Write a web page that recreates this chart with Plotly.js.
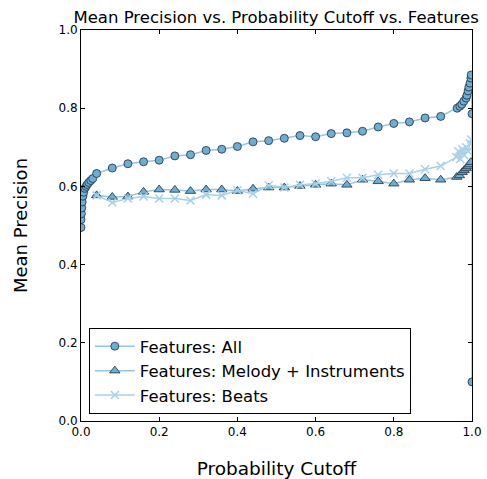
<!DOCTYPE html>
<html>
<head>
<meta charset="utf-8">
<script src="https://cdn.plot.ly/plotly-3.0.1.min.js"></script>
<style>html,body{margin:0;padding:0;background:#fff;}#chart{width:487px;height:479px;}</style>
</head>
<body>
<div id="chart"></div>
<script>
// Features: All
const allX = [0, 0, 0.001, 0.002, 0.003, 0.005, 0.007, 0.01, 0.013, 0.016, 0.02, 0.025, 0.03,
  0.04, 0.08, 0.12, 0.16, 0.20, 0.24, 0.28, 0.32, 0.36, 0.40, 0.44, 0.48, 0.52, 0.56, 0.60, 0.64, 0.68, 0.72, 0.76,
  0.80, 0.84, 0.88, 0.92, 0.962, 0.969, 0.974, 0.979, 0.985, 0.987, 0.990, 0.992, 0.995, 0.997, 0.998, 1.0, 1.0];
const allY = [0.495, 0.515, 0.53, 0.545, 0.56, 0.575, 0.585, 0.595, 0.60, 0.605, 0.61, 0.615, 0.62,
  0.633, 0.647, 0.658, 0.663, 0.667, 0.678, 0.681, 0.692, 0.695, 0.702, 0.714, 0.717, 0.723, 0.730, 0.727, 0.735, 0.737, 0.741, 0.752,
  0.761, 0.765, 0.775, 0.779, 0.800, 0.805, 0.810, 0.818, 0.826, 0.833, 0.844, 0.854, 0.864, 0.877, 0.885, 0.786, 0.10];

// Features: Melody + Instruments
const melX = [0.04, 0.08, 0.12, 0.16, 0.20, 0.24, 0.28, 0.32, 0.36, 0.40, 0.44, 0.48, 0.52, 0.56, 0.60, 0.64, 0.68, 0.72, 0.76,
  0.80, 0.84, 0.88, 0.92, 0.961, 0.968, 0.975, 0.980, 0.985, 0.990, 0.993, 0.997];
const melY = [0.577, 0.573, 0.574, 0.586, 0.592, 0.591, 0.588, 0.592, 0.592, 0.588, 0.594, 0.597, 0.597, 0.601, 0.604, 0.607, 0.604, 0.617, 0.613,
  0.607, 0.617, 0.621, 0.617, 0.624, 0.628, 0.636, 0.641, 0.646, 0.651, 0.656, 0.662];

// Features: Beats
const beatX = [0.04, 0.08, 0.12, 0.16, 0.20, 0.24, 0.28, 0.32, 0.36, 0.40, 0.44, 0.48, 0.52, 0.56, 0.60, 0.64, 0.68, 0.72, 0.76,
  0.80, 0.84, 0.88, 0.92, 0.960, 0.965, 0.970, 0.975, 0.980, 0.985, 0.990, 0.995, 0.998];
const beatY = [0.577, 0.559, 0.569, 0.574, 0.569, 0.569, 0.564, 0.579, 0.577, 0.590, 0.581, 0.603, 0.597, 0.604, 0.607, 0.613, 0.622, 0.622, 0.630,
  0.633, 0.633, 0.644, 0.652, 0.675, 0.690, 0.670, 0.695, 0.680, 0.700, 0.690, 0.710, 0.720];

const seriesNames = ['Features: All', 'Features: Melody + Instruments', 'Features: Beats'];
const xTicks = [0, 0.2, 0.4, 0.6, 0.8, 1.0];
const xTickText = ['0.0', '0.2', '0.4', '0.6', '0.8', '1.0'];
const yTicks = [0, 0.2, 0.4, 0.6, 0.8, 1.0];
const yTickText = ['0.0', '0.2', '0.4', '0.6', '0.8', '1.0'];

const lineCol = '#94c6e2';
const fillCol = '#6baed6';
const edgeCol = 'rgba(35,55,70,0.85)';

const traces = [
  {x: allX, y: allY, name: seriesNames[0], mode: 'lines+markers', type: 'scatter',
   line: {color: lineCol, width: 1.5},
   marker: {symbol: 'circle', size: 8, color: fillCol, line: {color: edgeCol, width: 1}}},
  {x: melX, y: melY, name: seriesNames[1], mode: 'lines+markers', type: 'scatter',
   line: {color: lineCol, width: 1.5},
   marker: {symbol: 'triangle-up', size: 9, color: fillCol, line: {color: edgeCol, width: 1}}},
  {x: beatX, y: beatY, name: seriesNames[2], mode: 'lines+markers', type: 'scatter',
   line: {color: '#a6d1ea', width: 1.5},
   marker: {symbol: 'x-thin', size: 8, color: '#a6d1ea', line: {color: '#a6d1ea', width: 1.5}}}
];

const font = 'DejaVu Sans, sans-serif';
const layout = {
  width: 487, height: 479,
  margin: {l: 81, r: 15, t: 30, b: 58},
  paper_bgcolor: '#fff', plot_bgcolor: '#fff',
  font: {family: font, color: '#000', size: 12},
  title: {text: 'Mean Precision vs. Probability Cutoff vs. Features', font: {family: font, size: 16.5, color: '#000'},
          x: 0.567, xref: 'container', xanchor: 'center', y: 0.963, yref: 'container', yanchor: 'middle'},
  xaxis: {range: [0, 1], tickvals: xTicks, ticktext: xTickText, ticks: 'inside', ticklen: 4, tickcolor: '#000',
          showline: true, linecolor: '#000', linewidth: 1, mirror: 'ticks', showgrid: false, zeroline: false,
          tickfont: {family: font, size: 12}, fixedrange: true,
          title: {text: 'Probability Cutoff', font: {family: font, size: 18.5}, standoff: 24}},
  yaxis: {range: [0, 1], tickvals: yTicks, ticktext: yTickText, ticks: 'inside', ticklen: 4, tickcolor: '#000',
          showline: true, linecolor: '#000', linewidth: 1, mirror: 'ticks', showgrid: false, zeroline: false,
          tickfont: {family: font, size: 12}, fixedrange: true,
          title: {text: 'Mean Precision', font: {family: font, size: 18}, standoff: 26}},
  legend: {x: 0.02, y: 0.018, xanchor: 'left', yanchor: 'bottom', bordercolor: '#000', borderwidth: 1,
           bgcolor: '#fff', font: {family: font, size: 16.5}, tracegroupgap: 0, itemwidth: 40},
  showlegend: true
};

Plotly.newPlot('chart', traces, layout, {displayModeBar: false, staticPlot: true});
</script>
</body>
</html>
